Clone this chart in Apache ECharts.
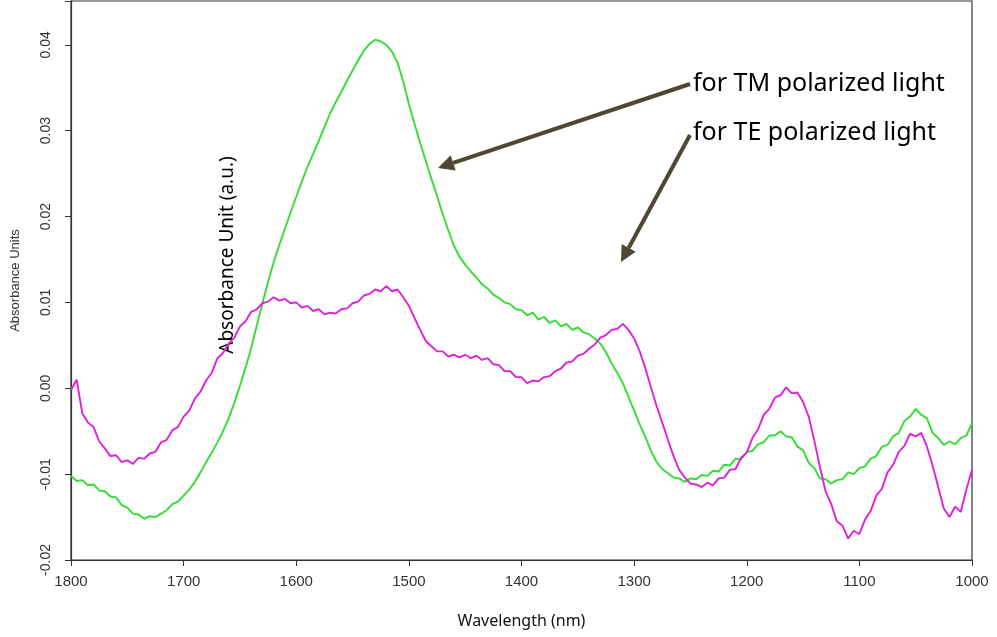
<!DOCTYPE html>
<html>
<head>
<meta charset="utf-8">
<script src="https://cdn.jsdelivr.net/npm/echarts@6/dist/echarts.min.js"></script>
<style>html,body{margin:0;padding:0;background:#fff;}#c{width:997px;height:637px;}</style>
</head>
<body>
<div id="c"></div>
<script>
// Wavelength (nm), 5 nm steps from 1800 to 1000
const wavelengths = [1800,1795,1790,1785,1780,1775,1770,1765,1760,1755,1750,1745,1740,1735,1730,1725,1720,1715,1710,1705,1700,1695,1690,1685,1680,1675,1670,1665,1660,1655,1650,1645,1640,1635,1630,1625,1620,1615,1610,1605,1600,1595,1590,1585,1580,1575,1570,1565,1560,1555,1550,1545,1540,1535,1530,1525,1520,1515,1510,1505,1500,1495,1490,1485,1480,1475,1470,1465,1460,1455,1450,1445,1440,1435,1430,1425,1420,1415,1410,1405,1400,1395,1390,1385,1380,1375,1370,1365,1360,1355,1350,1345,1340,1335,1330,1325,1320,1315,1310,1305,1300,1295,1290,1285,1280,1275,1270,1265,1260,1255,1250,1245,1240,1235,1230,1225,1220,1215,1210,1205,1200,1195,1190,1185,1180,1175,1170,1165,1160,1155,1150,1145,1140,1135,1130,1125,1120,1115,1110,1105,1100,1095,1090,1085,1080,1075,1070,1065,1060,1055,1050,1045,1040,1035,1030,1025,1020,1015,1010,1005,1000];
// TM polarized light (green)
const tmValues = [-0.0102,-0.0108,-0.0107,-0.0113,-0.0112,-0.0119,-0.0120,-0.0126,-0.0127,-0.0136,-0.0139,-0.0146,-0.0147,-0.0152,-0.0149,-0.0150,-0.0146,-0.0142,-0.0135,-0.0132,-0.0125,-0.0118,-0.0109,-0.0098,-0.0086,-0.0075,-0.0063,-0.0050,-0.0035,-0.0017,0.0003,0.0024,0.0047,0.0073,0.0099,0.0124,0.0147,0.0167,0.0186,0.0205,0.0223,0.0241,0.0258,0.0273,0.0288,0.0304,0.0320,0.0333,0.0345,0.0358,0.0370,0.0382,0.0393,0.0401,0.0406,0.0404,0.0400,0.0392,0.0379,0.0357,0.0331,0.0308,0.0286,0.0265,0.0244,0.0224,0.0203,0.0184,0.0166,0.0153,0.0144,0.0136,0.0129,0.0121,0.0116,0.0109,0.0105,0.0100,0.0098,0.0092,0.0091,0.0085,0.0088,0.0080,0.0083,0.0076,0.0079,0.0072,0.0075,0.0068,0.0071,0.0065,0.0063,0.0058,0.0052,0.0042,0.0029,0.0018,0.0006,-0.0010,-0.0026,-0.0042,-0.0057,-0.0073,-0.0086,-0.0094,-0.0099,-0.0104,-0.0105,-0.0109,-0.0105,-0.0106,-0.0101,-0.0102,-0.0096,-0.0097,-0.0089,-0.0090,-0.0082,-0.0083,-0.0074,-0.0073,-0.0065,-0.0063,-0.0055,-0.0055,-0.0050,-0.0056,-0.0057,-0.0068,-0.0072,-0.0087,-0.0093,-0.0105,-0.0106,-0.0111,-0.0107,-0.0106,-0.0098,-0.0100,-0.0093,-0.0091,-0.0082,-0.0079,-0.0068,-0.0066,-0.0056,-0.0052,-0.0038,-0.0033,-0.0024,-0.0031,-0.0035,-0.0052,-0.0058,-0.0066,-0.0062,-0.0065,-0.0058,-0.0055,-0.0041];
// TE polarized light (magenta)
const teValues = [-0.0002,0.0010,-0.0029,-0.0040,-0.0045,-0.0062,-0.0070,-0.0079,-0.0078,-0.0086,-0.0084,-0.0088,-0.0081,-0.0082,-0.0076,-0.0074,-0.0063,-0.0060,-0.0049,-0.0045,-0.0033,-0.0026,-0.0012,-0.0004,0.0009,0.0018,0.0035,0.0041,0.0052,0.0059,0.0072,0.0078,0.0089,0.0092,0.0099,0.0101,0.0106,0.0102,0.0104,0.0099,0.0100,0.0094,0.0096,0.0090,0.0092,0.0086,0.0088,0.0087,0.0092,0.0093,0.0099,0.0101,0.0108,0.0110,0.0115,0.0113,0.0119,0.0113,0.0115,0.0106,0.0096,0.0082,0.0068,0.0055,0.0049,0.0043,0.0043,0.0037,0.0039,0.0036,0.0039,0.0035,0.0038,0.0033,0.0035,0.0028,0.0027,0.0020,0.0020,0.0013,0.0013,0.0006,0.0009,0.0008,0.0013,0.0014,0.0020,0.0023,0.0030,0.0031,0.0038,0.0040,0.0046,0.0051,0.0059,0.0062,0.0068,0.0069,0.0075,0.0068,0.0058,0.0043,0.0023,0.0001,-0.0021,-0.0040,-0.0060,-0.0079,-0.0095,-0.0104,-0.0111,-0.0112,-0.0115,-0.0110,-0.0113,-0.0105,-0.0104,-0.0095,-0.0094,-0.0081,-0.0075,-0.0058,-0.0048,-0.0031,-0.0024,-0.0011,-0.0008,0.0001,-0.0006,-0.0005,-0.0016,-0.0033,-0.0061,-0.0092,-0.0120,-0.0135,-0.0155,-0.0160,-0.0175,-0.0166,-0.0170,-0.0153,-0.0143,-0.0125,-0.0117,-0.0098,-0.0089,-0.0074,-0.0067,-0.0053,-0.0056,-0.0052,-0.0068,-0.0090,-0.0115,-0.0140,-0.0150,-0.0138,-0.0144,-0.0118,-0.0095];
const yTicks = [-0.02,-0.01,0.00,0.01,0.02,0.03,0.04];
const xTicks = [1800,1700,1600,1500,1400,1300,1200,1100,1000];
const seriesNames = ['for TM polarized light','for TE polarized light'];

const chart = echarts.init(document.getElementById('c'), null, {renderer:'canvas'});
const pair = (vals) => wavelengths.map((w,i)=>[w, vals[i]]);

function arrow(x1,y1,x2,y2){
  const ang = Math.atan2(y2-y1, x2-x1);
  const L = 16, W = 8;
  const bx = x2 - L*Math.cos(ang), by = y2 - L*Math.sin(ang);
  const px = -Math.sin(ang), py = Math.cos(ang);
  return [
    {type:'line', shape:{x1:x1,y1:y1,x2:bx,y2:by}, style:{stroke:'#4e4732', lineWidth:4}},
    {type:'polygon', shape:{points:[[x2,y2],[bx+px*W,by+py*W],[bx-px*W,by-py*W]]}, style:{fill:'#4e4732'}}
  ];
}

chart.setOption({
  animation:false,
  backgroundColor:'#ffffff',
  grid:{left:71, right:25, top:1, bottom:77, outerBoundsMode:'none', containLabel:false,
        show:true, borderColor:'#333', borderWidth:1.2, backgroundColor:'transparent'},
  xAxis:{
    type:'value', min:1000, max:1800, interval:100, inverse:true,
    name:'Wavelength (nm)', nameLocation:'middle', nameGap:53,
    nameTextStyle:{fontFamily:'Noto Sans', fontSize:16, color:'#111'},
    axisLine:{show:true, onZero:false, lineStyle:{color:'#333', width:1.2}},
    axisTick:{show:true, length:6, lineStyle:{color:'#333'}},
    axisLabel:{fontFamily:'Liberation Sans', fontSize:15, color:'#333', margin:14,
      formatter:(v)=> xTicks.indexOf(v)>=0 ? String(v) : ''},
    splitLine:{show:false}
  },
  yAxis:{
    type:'value', min:-0.02, max:0.0451, interval:0.01,
    name:'Absorbance Units', nameLocation:'middle', nameGap:49, nameRotate:90,
    nameTextStyle:{fontFamily:'Liberation Sans', fontSize:13, color:'#333'},
    axisLine:{show:true, lineStyle:{color:'#333', width:1.2}},
    axisTick:{show:true, length:6, lineStyle:{color:'#333'}},
    axisLabel:{fontFamily:'Liberation Sans', fontSize:14, color:'#333', rotate:90, margin:18,
      formatter:(v)=>{ const r = Math.round(v*100)/100; return yTicks.some(t=>Math.abs(t-v)<1e-9) ? r.toFixed(2) : ''; }},
    splitLine:{show:false}
  },
  series:[
    {name:seriesNames[0], type:'line', data:pair(tmValues), showSymbol:false,
     lineStyle:{color:'#33dd33', width:1.9}, itemStyle:{color:'#33dd33'}},
    {name:seriesNames[1], type:'line', data:pair(teValues), showSymbol:false,
     lineStyle:{color:'#dc22dc', width:1.9}, itemStyle:{color:'#dc22dc'}}
  ],
  graphic:[
    ...arrow(690,84,438,168),
    ...arrow(690,135,621,262),
    {type:'text', x:693, y:84, style:{text:seriesNames[0], font:'25px "Noto Sans"', fill:'#000', verticalAlign:'middle'}},
    {type:'text', x:693, y:133, style:{text:seriesNames[1], font:'25px "Noto Sans"', fill:'#000', verticalAlign:'middle'}},
    {type:'text', x:228, y:255, rotation:Math.PI/2, style:{text:'Absorbance Unit (a.u.)', font:'19px "Noto Sans"', fill:'#000', align:'center', verticalAlign:'middle'}}
  ]
});
</script>
</body>
</html>
